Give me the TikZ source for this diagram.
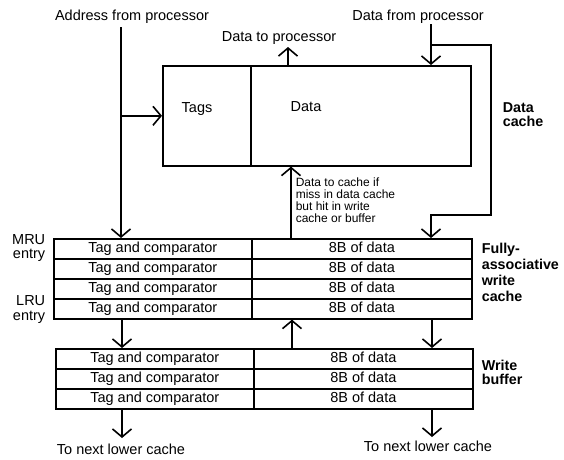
\documentclass[tikz,border=0pt]{standalone}
\usepackage{fontspec}
\setmainfont{Liberation Sans}
\usetikzlibrary{arrows.meta}
\begin{document}
\begin{tikzpicture}[x=1pt,y=-1pt,line width=1.6pt,
  arr/.style={-{Straight Barb[length=8pt,width=19pt]}},
  box/.style={draw,anchor=north west,inner sep=0pt},
  cell/.style={draw,anchor=north west,inner sep=0pt,minimum height=20pt,
    font=\fontsize{14.5}{16}\selectfont,text height=10.6pt,text depth=3pt},
  tagcell/.style={cell,minimum width=198pt},
  datacell/.style={cell,minimum width=220pt},
  txt/.style={inner sep=0pt,anchor=base,font=\fontsize{14.5}{16}\selectfont},
  txtl/.style={txt,anchor=base west},
  txtr/.style={txt,anchor=base east},
  bld/.style={inner sep=0pt,anchor=base west,font=\fontsize{14.3}{15}\selectfont\bfseries},
  small/.style={inner sep=0pt,anchor=north west,align=left,
    font=\fontsize{12}{12}\selectfont}]
\useasboundingbox (0,0) rectangle (564,459);

% data cache
\node[box,minimum width=88pt,minimum height=100pt] (dctag) at (162,65) {};
\node[box,minimum width=220pt,minimum height=100pt] (dcdata) at (250,65) {};
\node[txt] (tagstxt) at (197,112) {Tags};
\node[txt] (datatxt) at (306,111) {Data};
\node[bld] (dcl1) at (502,112) {Data};
\node[bld] (dcl2) at (502,126) {cache};

% write cache
\foreach \i in {1,...,4}{
  \node[tagcell,minimum width=198pt] (wct\i) at (53,{238+20*(\i-1)}) {Tag and comparator};
  \node[datacell] (wcd\i) at (251,{238+20*(\i-1)}) {8B of data};
}
% write buffer
\foreach \i in {1,...,3}{
  \node[tagcell] (wbt\i) at (55,{348+20*(\i-1)}) {Tag and comparator};
  \node[datacell,minimum width=219pt] (wbd\i) at (253,{348+20*(\i-1)}) {8B of data};
}

% labels left
\node[txtr] (mru) at (46,244) {MRU};
\node[txtr] (mrue) at (46,258) {entry};
\node[txtr] (lru) at (46,305) {LRU};
\node[txtr] (lrue) at (46,320) {entry};

% labels right
\node[bld] (fa1) at (481,253) {Fully-};
\node[bld] (fa2) at (481,269) {associative};
\node[bld] (fa3) at (481,285) {write};
\node[bld] (fa4) at (481,301) {cache};
\node[bld] (wb1) at (481,370) {Write};
\node[bld] (wb2) at (481,384) {buffer};

% top texts
\node[txt] (addrtxt) at (132,20) {Address from processor};
\node[txt] (dtptxt) at (279,41) {Data to processor};
\node[txt] (dfptxt) at (418,20) {Data from processor};
\node[small] (dtctxt) at (295,177) {Data to cache if\\miss in data cache\\but hit in write\\cache or buffer};

% bottom texts
\node[txt] (low1) at (121,454) {To next lower cache};
\node[txt] (low2) at (428,451) {To next lower cache};

% coordinates
\coordinate (addr) at (121,27);
\coordinate (dtp) at (288,47);
\coordinate (dfp) at (431,24);
\coordinate (br) at (431,45);
\coordinate (brr) at (491,45);
\coordinate (brd) at (491,215);
\coordinate (brl) at (431,215);
\coordinate (o1) at (122,438);
\coordinate (o2) at (432,437);

% connectors
\draw[arr] (addr) -- (addr |- wct1.north);
\draw[arr] (addr |- dctag.west) -- (dctag.west);
\draw[arr] (dtp |- dcdata.north) -- (dtp);
\draw[arr] (dfp) -- (dfp |- dcdata.north);
\draw[arr,line join=miter] (br) -- (brr) -- (brd) -- (brl) -- (brl |- wcd1.north);
\draw[arr] (wcd1.north -| 291,0) -- (dcdata.south -| 291,0);
\draw[arr] (wct4.south -| 122,0) -- (wbt1.north -| 122,0);
\draw[arr] (wbd1.north -| 292,0) -- (wcd4.south -| 292,0);
\draw[arr] (wcd4.south -| 432,0) -- (wbd1.north -| 432,0);
\draw[arr] (wbt3.south -| o1) -- (o1);
\draw[arr] (wbd3.south -| o2) -- (o2);
\end{tikzpicture}
\end{document}
